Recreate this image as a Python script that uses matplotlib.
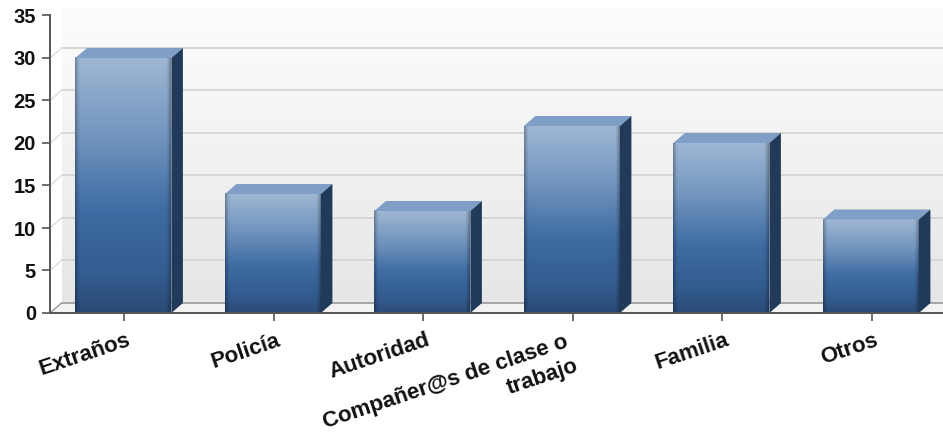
import matplotlib
matplotlib.use("Agg")
import matplotlib.pyplot as plt
from matplotlib.colors import LinearSegmentedColormap
from matplotlib.patches import Polygon
import numpy as np

categories = ["Extraños", "Policía", "Autoridad", "Compañer@s de clase o\ntrabajo", "Familia", "Otros"]
values = [30, 14, 12, 22, 20, 11]
y_ticks = [0, 5, 10, 15, 20, 25, 30, 35]

plt.rcParams['font.family'] = ['Liberation Sans', 'DejaVu Sans']

W, H = 943, 440
# pixel layout of the plot box
left, right, bottom, top = 50, 943, 313, 8
px_x = 149.5   # pixels per category
px_y = 8.5     # pixels per unit
depth_x = 11.5 / px_x
depth_y = 10 / px_y
bar_w = 96 / px_x

fig = plt.figure(figsize=(W / 100, H / 100), dpi=100)
ax = fig.add_axes([left / W, 1 - bottom / H, (right - left) / W, (bottom - top) / H])
x0 = -(124 - left) / px_x
x1 = x0 + (right - left) / px_x
y1 = (bottom - top) / px_y
ax.set_xlim(x0, x1)
ax.set_ylim(0, y1)
ax.patch.set_visible(False)

# back wall, side wall and floor
wall = LinearSegmentedColormap.from_list("wall", ["#fdfdfd", "#e6e6e6"])
grad = np.linspace(0, 1, 256).reshape(-1, 1)
ax.imshow(grad, cmap=wall, extent=(x0 + depth_x, x1, depth_y, y1), aspect="auto", zorder=0, vmin=0, vmax=1)
ax.add_patch(Polygon([(x0, 0), (x1, 0), (x1, depth_y), (x0 + depth_x, depth_y)], fc="#f2f2f2", ec="none", zorder=1))

for t in y_ticks[:-1]:
    col = "#9a9a9a" if t == 0 else "#d2d2d2"
    ax.plot([x0 + depth_x, x1], [t + depth_y, t + depth_y], color=col, lw=1.2, zorder=1.5)
    ax.plot([x0, x0 + depth_x], [t, t + depth_y], color="#dddddd" if t else "#9a9a9a", lw=1, zorder=1.5)

# bars
bar_cmap = LinearSegmentedColormap.from_list(
    "bar", [(0, "#9fb7d4"), (0.3, "#7396bf"), (0.6, "#3f6ca3"), (0.85, "#335c8f"), (1, "#2a4a76")])
bar_grad = bar_cmap(np.linspace(0, 1, 256))[:, :3]
edge = np.ones(96)
edge[:5] = [0.72, 0.8, 0.88, 0.94, 0.98]
edge[-5:] = [0.98, 0.94, 0.88, 0.8, 0.72]
bar_img = bar_grad[:, None, :] * edge[None, :, None]

for i, v in enumerate(values):
    l, r = i - bar_w / 2 - 0.004, i + bar_w / 2 - 0.004
    ax.imshow(bar_img, extent=(l, r, 0, v), aspect="auto", zorder=3 + i)
    ax.add_patch(Polygon([(l, v), (r, v), (r + depth_x, v + depth_y), (l + depth_x, v + depth_y)],
                         fc="#7f9fc6", ec="none", zorder=3 + i))
    ax.add_patch(Polygon([(r, 0), (r + depth_x, depth_y), (r + depth_x, v + depth_y), (r, v)],
                         fc="#223a5a", ec="none", zorder=3 + i))

ax.set_xlim(x0, x1)
ax.set_ylim(0, y1)

for s in ["top", "right"]:
    ax.spines[s].set_visible(False)
ax.spines["left"].set_bounds(0, 35)
for s in ["left", "bottom"]:
    ax.spines[s].set_color("#555555")
    ax.spines[s].set_linewidth(1.4)
    ax.spines[s].set_zorder(20)

ax.set_yticks(y_ticks)
ax.set_yticklabels([str(t) for t in y_ticks], fontsize=14.5, fontweight="bold", color="#111111")
ax.set_xticks(range(len(categories)))
ax.set_xticklabels([])
ax.tick_params(axis="both", length=6, width=1.2, color="#555555", pad=4)

# rotated category labels, each line turned on its own right end
for i, c in enumerate(categories):
    lines = c.split("\n")
    offsets = [(-6, -13), (1, -31)] if len(lines) > 1 else [(2, -12)]
    for line, off in zip(lines, offsets):
        ax.annotate(line, xy=(i, 0), xytext=off, textcoords="offset points",
                    rotation=18.5, rotation_mode="anchor", ha="right",
                    va="top", fontsize=16, fontweight="bold", color="#111111",
                    annotation_clip=False)

fig.savefig("out.png", dpi=100)
